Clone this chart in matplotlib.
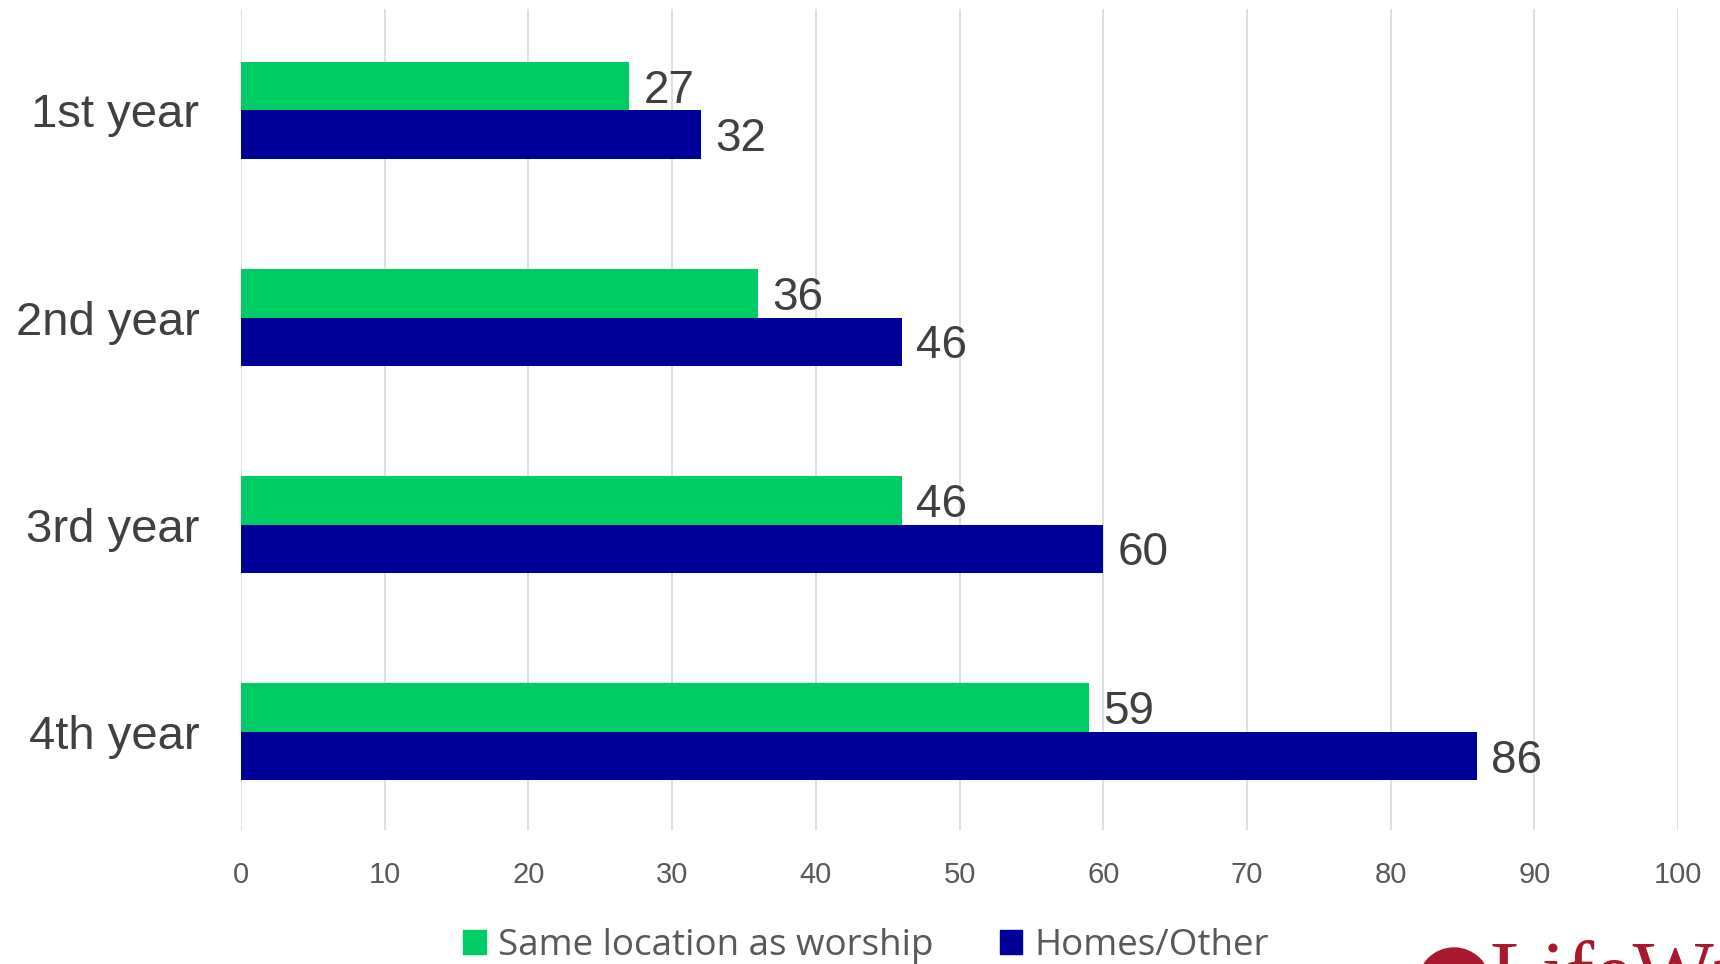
import matplotlib
matplotlib.use("Agg")
from matplotlib import pyplot as plt
from matplotlib.patches import Patch, Ellipse
import numpy as np

categories = ["1st year", "2nd year", "3rd year", "4th year"]
same_location = [27, 36, 46, 59]
homes_other = [32, 46, 60, 86]
series_names = ["Same location as worship", "Homes/Other"]
ticks = list(range(0, 101, 10))

green = "#00CC66"
navy = "#000099"
grey_text = "#595959"
logo_red = "#A6192E"

plt.rcParams["font.family"] = ["Liberation Sans", "DejaVu Sans"]

fig = plt.figure(figsize=(17.2, 9.64), dpi=100)
ax = fig.add_axes([241 / 1720, 1 - 830 / 964, (1678 - 241) / 1720, (830 - 9) / 964])

y = np.arange(len(categories))
h = 0.235
ax.barh(y - h / 2, same_location, height=h, color=green, zorder=3)
ax.barh(y + h / 2, homes_other, height=h, color=navy, zorder=3)

# value labels, digits centred on the bar
dy = 0.08
for i in range(len(categories)):
    ax.text(same_location[i] + 1.0, y[i] - h / 2 + dy, str(same_location[i]),
            va="baseline", ha="left", fontsize=33, color="#404040")
    ax.text(homes_other[i] + 1.0, y[i] + h / 2 + dy, str(homes_other[i]),
            va="baseline", ha="left", fontsize=33, color="#404040")

ax.set_xlim(0, 100)
ax.set_ylim(3.475, -0.49)
ax.set_xticks(ticks)
ax.set_xticklabels([str(t) for t in ticks], fontsize=21, color=grey_text)
ax.set_yticks(y)
ax.set_yticklabels(categories, fontsize=34, color="#404040")
ax.tick_params(axis="x", length=0, pad=22)
ax.tick_params(axis="y", length=0, pad=30)
ax.grid(axis="x", color="#d9d9d9", linewidth=1.2, zorder=0)
for s in ax.spines.values():
    s.set_visible(False)

handles = [Patch(color=green), Patch(color=navy)]
fig.legend(handles, series_names, loc="center", bbox_to_anchor=(866 / 1720, 1 - 946 / 964),
           ncol=2, frameon=False, handlelength=0.62, handleheight=0.62,
           handletextpad=0.32, columnspacing=1.8, labelcolor=grey_text,
           prop={"family": "Open Sans", "size": 26.5})

# logo, cut off by the bottom edge
fig.text(1489 / 1720, 1 - 940 / 964, "LifeWay", fontsize=62, color=logo_red,
         family="Liberation Serif", va="top", ha="left")
fig.patches.append(Ellipse((1454 / 1720, 1 - 984 / 964), 72 / 1720, 72 / 964,
                           transform=fig.transFigure, color=logo_red))

fig.savefig("out.png", dpi=100)
